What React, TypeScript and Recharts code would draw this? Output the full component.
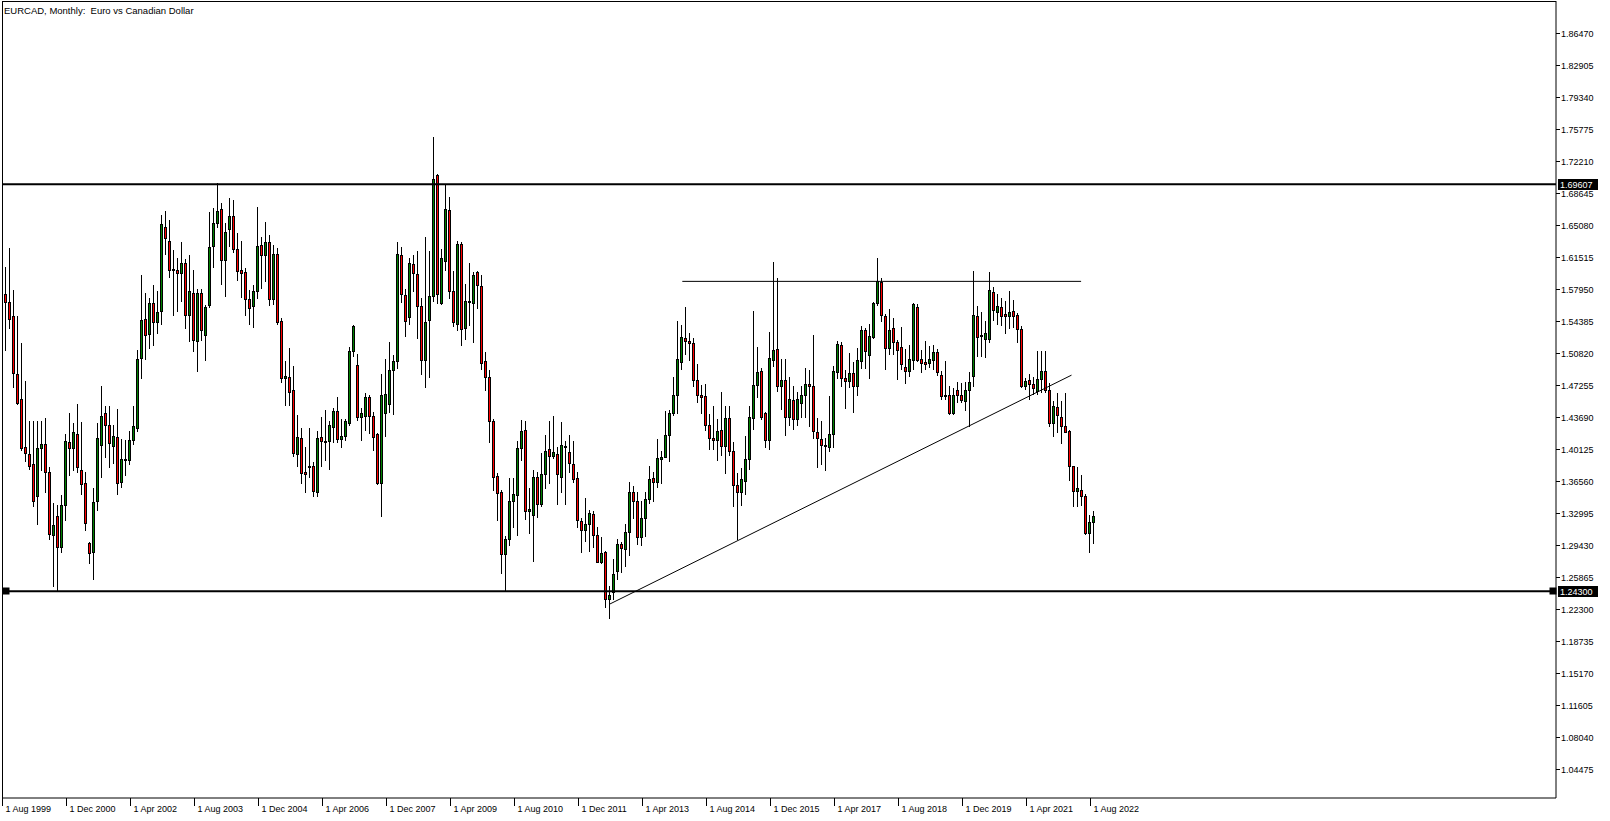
import React from 'react';
import { ComposedChart, Bar, XAxis, YAxis, ReferenceLine, ReferenceDot } from 'recharts';

// EURCAD monthly candles (bar index 0 = Aug 1999)
const opens = [
  1.600, 1.574, 1.565, 1.550, 1.485, 1.457, 1.404, 1.396, 1.385, 1.349,
  1.402, 1.407, 1.376, 1.306, 1.327, 1.292, 1.339, 1.409, 1.402, 1.418,
  1.378, 1.364, 1.297, 1.287, 1.343, 1.406, 1.441, 1.428, 1.405, 1.415,
  1.365, 1.390, 1.389, 1.411, 1.425, 1.503, 1.546, 1.529, 1.564, 1.543,
  1.555, 1.648, 1.633, 1.602, 1.601, 1.597, 1.608, 1.551, 1.575, 1.522,
  1.575, 1.528, 1.562, 1.627, 1.653, 1.669, 1.612, 1.646, 1.661, 1.624,
  1.601, 1.598, 1.568, 1.561, 1.577, 1.629, 1.617, 1.632, 1.568, 1.619,
  1.544, 1.480, 1.482, 1.467, 1.396, 1.414, 1.376, 1.381, 1.382, 1.354,
  1.415, 1.410, 1.410, 1.426, 1.444, 1.413, 1.416, 1.430, 1.510, 1.495,
  1.437, 1.438, 1.459, 1.438, 1.418, 1.364, 1.441, 1.452, 1.489, 1.499,
  1.617, 1.573, 1.548, 1.607, 1.596, 1.561, 1.500, 1.545, 1.572, 1.706,
  1.564, 1.611, 1.667, 1.577, 1.540, 1.630, 1.536, 1.566, 1.564, 1.598,
  1.583, 1.499, 1.481, 1.432, 1.371, 1.354, 1.284, 1.301, 1.343, 1.350,
  1.403, 1.422, 1.332, 1.328, 1.370, 1.340, 1.373, 1.401, 1.394, 1.396,
  1.370, 1.405, 1.398, 1.385, 1.369, 1.321, 1.311, 1.318, 1.329, 1.306,
  1.276, 1.287, 1.234, 1.242, 1.266, 1.296, 1.290, 1.309, 1.353, 1.344,
  1.303, 1.325, 1.346, 1.369, 1.365, 1.390, 1.393, 1.417, 1.442, 1.462,
  1.498, 1.525, 1.522, 1.519, 1.478, 1.462, 1.460, 1.428, 1.414, 1.411,
  1.423, 1.405, 1.436, 1.399, 1.361, 1.354, 1.366, 1.390, 1.436, 1.473,
  1.488, 1.441, 1.411, 1.500, 1.513, 1.471, 1.478, 1.437, 1.456, 1.435,
  1.453, 1.461, 1.474, 1.472, 1.420, 1.413, 1.406, 1.404, 1.418, 1.487,
  1.517, 1.480, 1.477, 1.486, 1.471, 1.499, 1.534, 1.506, 1.526, 1.564,
  1.587, 1.550, 1.514, 1.536, 1.521, 1.515, 1.493, 1.488, 1.501, 1.559,
  1.502, 1.498, 1.497, 1.501, 1.509, 1.484, 1.462, 1.462, 1.442, 1.467,
  1.462, 1.455, 1.467, 1.483, 1.550, 1.528, 1.524, 1.524, 1.576, 1.554,
  1.560, 1.552, 1.550, 1.555, 1.551, 1.535, 1.472, 1.478, 1.474, 1.466,
  1.479, 1.488, 1.467, 1.430, 1.448, 1.437, 1.427, 1.421, 1.382, 1.355,
  1.356, 1.349, 1.308, 1.320,
];

const highs = [
  1.613, 1.604, 1.625, 1.578, 1.549, 1.519, 1.477, 1.433, 1.432, 1.432,
  1.432, 1.436, 1.381, 1.341, 1.339, 1.350, 1.418, 1.441, 1.430, 1.452,
  1.431, 1.376, 1.298, 1.358, 1.430, 1.471, 1.449, 1.449, 1.428, 1.446,
  1.413, 1.411, 1.421, 1.449, 1.512, 1.595, 1.575, 1.569, 1.584, 1.577,
  1.662, 1.666, 1.656, 1.623, 1.614, 1.632, 1.613, 1.617, 1.601, 1.579,
  1.579, 1.562, 1.665, 1.670, 1.698, 1.675, 1.653, 1.681, 1.679, 1.642,
  1.633, 1.603, 1.578, 1.584, 1.671, 1.637, 1.654, 1.640, 1.629, 1.625,
  1.547, 1.499, 1.514, 1.494, 1.439, 1.425, 1.404, 1.425, 1.387, 1.421,
  1.437, 1.445, 1.432, 1.447, 1.459, 1.435, 1.435, 1.515, 1.539, 1.507,
  1.447, 1.464, 1.462, 1.443, 1.419, 1.485, 1.502, 1.520, 1.506, 1.632,
  1.626, 1.580, 1.614, 1.617, 1.622, 1.569, 1.637, 1.622, 1.749, 1.707,
  1.624, 1.695, 1.682, 1.600, 1.633, 1.632, 1.585, 1.609, 1.598, 1.600,
  1.595, 1.509, 1.489, 1.435, 1.375, 1.356, 1.305, 1.369, 1.369, 1.410,
  1.434, 1.432, 1.358, 1.378, 1.376, 1.397, 1.417, 1.433, 1.438, 1.404,
  1.431, 1.410, 1.417, 1.410, 1.376, 1.325, 1.347, 1.333, 1.332, 1.314,
  1.303, 1.288, 1.249, 1.279, 1.301, 1.298, 1.318, 1.365, 1.360, 1.354,
  1.344, 1.353, 1.382, 1.376, 1.412, 1.399, 1.444, 1.445, 1.481, 1.544,
  1.539, 1.559, 1.530, 1.525, 1.496, 1.473, 1.474, 1.440, 1.449, 1.435,
  1.465, 1.449, 1.449, 1.409, 1.375, 1.380, 1.416, 1.449, 1.555, 1.515,
  1.492, 1.443, 1.532, 1.610, 1.592, 1.502, 1.502, 1.482, 1.471, 1.465,
  1.472, 1.492, 1.489, 1.528, 1.436, 1.432, 1.414, 1.460, 1.494, 1.522,
  1.521, 1.489, 1.508, 1.498, 1.514, 1.538, 1.536, 1.541, 1.565, 1.614,
  1.592, 1.552, 1.557, 1.547, 1.523, 1.537, 1.513, 1.517, 1.564, 1.563,
  1.512, 1.522, 1.516, 1.517, 1.513, 1.488, 1.499, 1.471, 1.469, 1.476,
  1.475, 1.476, 1.487, 1.599, 1.561, 1.554, 1.544, 1.598, 1.582, 1.574,
  1.570, 1.566, 1.577, 1.567, 1.553, 1.538, 1.480, 1.485, 1.481, 1.511,
  1.511, 1.510, 1.475, 1.455, 1.464, 1.455, 1.464, 1.422, 1.383, 1.381,
  1.372, 1.351, 1.328, 1.332,
];

const lows = [
  1.571, 1.512, 1.536, 1.470, 1.451, 1.400, 1.388, 1.379, 1.338, 1.318,
  1.378, 1.353, 1.301, 1.249, 1.244, 1.287, 1.322, 1.372, 1.378, 1.376,
  1.351, 1.311, 1.275, 1.257, 1.334, 1.370, 1.393, 1.381, 1.386, 1.351,
  1.359, 1.372, 1.385, 1.407, 1.421, 1.480, 1.502, 1.514, 1.517, 1.531,
  1.540, 1.619, 1.593, 1.551, 1.555, 1.566, 1.536, 1.522, 1.511, 1.488,
  1.523, 1.501, 1.559, 1.604, 1.648, 1.585, 1.572, 1.627, 1.621, 1.589,
  1.571, 1.551, 1.540, 1.537, 1.570, 1.581, 1.588, 1.562, 1.563, 1.541,
  1.476, 1.450, 1.450, 1.394, 1.383, 1.364, 1.353, 1.370, 1.349, 1.349,
  1.382, 1.389, 1.379, 1.409, 1.409, 1.404, 1.411, 1.428, 1.505, 1.434,
  1.411, 1.422, 1.419, 1.400, 1.362, 1.327, 1.416, 1.443, 1.440, 1.492,
  1.565, 1.527, 1.541, 1.577, 1.525, 1.485, 1.470, 1.481, 1.566, 1.564,
  1.563, 1.601, 1.569, 1.538, 1.534, 1.517, 1.524, 1.539, 1.521, 1.558,
  1.491, 1.467, 1.409, 1.356, 1.322, 1.263, 1.243, 1.295, 1.315, 1.306,
  1.389, 1.324, 1.308, 1.277, 1.326, 1.338, 1.358, 1.363, 1.391, 1.340,
  1.354, 1.340, 1.376, 1.365, 1.314, 1.287, 1.299, 1.288, 1.292, 1.276,
  1.274, 1.226, 1.213, 1.234, 1.257, 1.265, 1.271, 1.283, 1.325, 1.296,
  1.295, 1.305, 1.341, 1.343, 1.359, 1.363, 1.393, 1.388, 1.439, 1.441,
  1.490, 1.507, 1.500, 1.472, 1.454, 1.442, 1.423, 1.401, 1.401, 1.389,
  1.395, 1.375, 1.395, 1.338, 1.301, 1.339, 1.351, 1.379, 1.424, 1.459,
  1.435, 1.404, 1.401, 1.494, 1.466, 1.446, 1.417, 1.428, 1.424, 1.428,
  1.437, 1.437, 1.427, 1.414, 1.381, 1.385, 1.378, 1.399, 1.404, 1.480,
  1.471, 1.447, 1.470, 1.443, 1.462, 1.492, 1.492, 1.480, 1.525, 1.562,
  1.544, 1.490, 1.507, 1.507, 1.479, 1.490, 1.475, 1.483, 1.491, 1.499,
  1.487, 1.490, 1.493, 1.490, 1.484, 1.457, 1.457, 1.440, 1.440, 1.454,
  1.454, 1.445, 1.427, 1.471, 1.505, 1.505, 1.504, 1.521, 1.545, 1.540,
  1.539, 1.531, 1.536, 1.537, 1.520, 1.470, 1.468, 1.457, 1.463, 1.463,
  1.465, 1.465, 1.427, 1.416, 1.420, 1.408, 1.420, 1.367, 1.338, 1.338,
  1.339, 1.307, 1.287, 1.297,
];

const closes = [
  1.574, 1.565, 1.546, 1.486, 1.453, 1.403, 1.397, 1.383, 1.343, 1.402,
  1.407, 1.376, 1.307, 1.317, 1.292, 1.339, 1.410, 1.402, 1.420, 1.381,
  1.362, 1.319, 1.286, 1.342, 1.414, 1.438, 1.428, 1.408, 1.416, 1.363,
  1.390, 1.389, 1.411, 1.427, 1.502, 1.545, 1.528, 1.564, 1.543, 1.554,
  1.652, 1.636, 1.601, 1.601, 1.597, 1.608, 1.551, 1.577, 1.523, 1.575,
  1.534, 1.559, 1.626, 1.653, 1.666, 1.612, 1.643, 1.661, 1.624, 1.599,
  1.597, 1.568, 1.558, 1.577, 1.627, 1.617, 1.632, 1.568, 1.619, 1.543,
  1.480, 1.483, 1.465, 1.397, 1.415, 1.375, 1.374, 1.383, 1.355, 1.414,
  1.410, 1.409, 1.428, 1.444, 1.413, 1.416, 1.432, 1.510, 1.538, 1.437,
  1.442, 1.459, 1.438, 1.415, 1.364, 1.462, 1.463, 1.489, 1.499, 1.619,
  1.574, 1.544, 1.608, 1.597, 1.561, 1.500, 1.543, 1.572, 1.702, 1.574,
  1.614, 1.669, 1.577, 1.543, 1.630, 1.535, 1.566, 1.565, 1.595, 1.584,
  1.497, 1.482, 1.432, 1.370, 1.352, 1.284, 1.301, 1.343, 1.351, 1.403,
  1.421, 1.332, 1.335, 1.370, 1.340, 1.374, 1.399, 1.394, 1.398, 1.374,
  1.406, 1.405, 1.386, 1.368, 1.322, 1.311, 1.318, 1.330, 1.306, 1.276,
  1.286, 1.234, 1.239, 1.262, 1.296, 1.291, 1.309, 1.353, 1.344, 1.303,
  1.325, 1.346, 1.368, 1.365, 1.391, 1.393, 1.417, 1.442, 1.461, 1.502,
  1.526, 1.522, 1.519, 1.478, 1.461, 1.459, 1.428, 1.414, 1.411, 1.421,
  1.405, 1.436, 1.399, 1.361, 1.354, 1.368, 1.390, 1.437, 1.473, 1.487,
  1.437, 1.411, 1.503, 1.512, 1.471, 1.478, 1.437, 1.457, 1.435, 1.457,
  1.462, 1.474, 1.471, 1.421, 1.414, 1.406, 1.405, 1.418, 1.488, 1.518,
  1.480, 1.477, 1.486, 1.471, 1.501, 1.534, 1.510, 1.527, 1.564, 1.588,
  1.551, 1.514, 1.534, 1.520, 1.512, 1.496, 1.488, 1.502, 1.563, 1.501,
  1.497, 1.496, 1.502, 1.509, 1.487, 1.460, 1.460, 1.442, 1.462, 1.461,
  1.456, 1.467, 1.476, 1.551, 1.526, 1.527, 1.531, 1.578, 1.556, 1.561,
  1.550, 1.550, 1.554, 1.549, 1.535, 1.472, 1.477, 1.474, 1.469, 1.479,
  1.488, 1.467, 1.430, 1.449, 1.439, 1.427, 1.420, 1.383, 1.355, 1.358,
  1.349, 1.308, 1.320, 1.327,
];

// time labels, one every 16 bars
const tickLabels = [
  '1 Aug 1999', '1 Dec 2000', '1 Apr 2002', '1 Aug 2003', '1 Dec 2004', '1 Apr 2006',
  '1 Dec 2007', '1 Apr 2009', '1 Aug 2010', '1 Dec 2011', '1 Apr 2013', '1 Aug 2014',
  '1 Dec 2015', '1 Apr 2017', '1 Aug 2018', '1 Dec 2019', '1 Apr 2021', '1 Aug 2022',
];
const barsPerLabel = 16;

const priceTicks = [
  1.04475, 1.0804, 1.11605, 1.1517, 1.18735, 1.223, 1.25865, 1.2943, 1.32995, 1.3656,
  1.40125, 1.4369, 1.47255, 1.5082, 1.54385, 1.5795, 1.61515, 1.6508, 1.68645, 1.7221,
  1.75775, 1.7934, 1.82905, 1.8647,
];

// drawn objects
const levels = [1.69607, 1.243];
const topLine = { from: 170, to: 269.7, price: 1.588 };
const trendLine = { from: 151.8, fromPrice: 1.2286, to: 267.3, toPrice: 1.4836 };

const FONT = '"Liberation Sans", Arial, sans-serif';
const BULL = '#008000';
const BEAR = '#ff0000';

const data = opens.map((o, i) => ({
  i,
  o,
  h: highs[i],
  l: lows[i],
  c: closes[i],
  range: [lows[i], highs[i]],
}));

const Candle = (props: any) => {
  const { x, y, width, height, payload } = props;
  if (!payload) return null;
  const { o, h, l, c } = payload;
  const top = Math.min(y, y + height);
  const bottom = Math.max(y, y + height);
  const span = h - l || 1;
  const py = (v: number) => top + ((h - v) / span) * (bottom - top);
  const fx = Math.floor(x + width / 2);
  const bTop = Math.round(py(Math.max(o, c))) + 0.5;
  const bBot = Math.round(py(Math.min(o, c))) + 0.5;
  return (
    <g>
      <line x1={fx + 0.5} x2={fx + 0.5} y1={Math.round(top)} y2={Math.round(bottom) + 1} stroke="#000" strokeWidth={1} />
      <rect
        x={fx - 0.5}
        y={bTop}
        width={2}
        height={Math.max(bBot - bTop, 1)}
        fill={c >= o ? BULL : BEAR}
        stroke="#000"
        strokeWidth={1}
      />
    </g>
  );
};

const PriceTick = (props: any) => {
  const { x, y, payload } = props;
  const v = payload.value;
  const yy = Math.round(y);
  const label = Number(v).toFixed(5);
  if (levels.includes(v)) {
    return (
      <g>
        <rect x={x + 2} y={yy - 5} width={40} height={11} fill="#000" />
        <text x={x + 4} y={yy + 4} fill="#fff" fontSize={9} fontFamily={FONT}>{label}</text>
      </g>
    );
  }
  return (
    <g>
      <line x1={x} x2={x + 4} y1={yy + 0.5} y2={yy + 0.5} stroke="#000" />
      <text x={x + 5} y={yy + 4} fill="#000" fontSize={9} fontFamily={FONT}>{label}</text>
    </g>
  );
};

const DateTick = (props: any) => {
  const { x, y, payload } = props;
  const k = Math.round(payload.value / barsPerLabel);
  const xx = Math.floor(x) + 0.5;
  return (
    <g>
      <line x1={xx} x2={xx} y1={y} y2={y + 8} stroke="#000" />
      <text x={xx + 3} y={y + 14} fill="#000" fontSize={9} fontFamily={FONT}>{tickLabels[k]}</text>
    </g>
  );
};

const Handle = (props: any) => (
  <rect x={Math.round(props.cx) - 3.5} y={Math.round(props.cy) - 3.5} width={7} height={7} fill="#000" />
);

export default function App() {
  const dateTicks = tickLabels.map((_, k) => k * barsPerLabel);
  return (
    <div style={{ position: 'absolute', left: 0, top: 0, width: 1610, height: 821, background: '#fff' }}>
      <ComposedChart width={1610} height={821} data={data} margin={{ top: 1, right: 0, left: 2, bottom: 0 }}>
        <XAxis
          dataKey="i"
          type="number"
          domain={[-0.075, 388.425]}
          allowDataOverflow
          ticks={dateTicks}
          interval={0}
          height={23}
          tickSize={0}
          tickMargin={0}
          tickLine={false}
          axisLine={{ stroke: '#000' }}
          tick={<DateTick />}
        />
        <YAxis
          orientation="right"
          type="number"
          domain={[1.01285, 1.90013]}
          allowDataOverflow
          ticks={[...priceTicks, ...levels]}
          interval={0}
          width={54}
          tickSize={0}
          tickMargin={0}
          tickLine={false}
          axisLine={{ stroke: '#000' }}
          tick={<PriceTick />}
        />
        <Bar dataKey="range" barSize={3} shape={<Candle />} isAnimationActive={false} />
        {levels.map((lv) => (
          <ReferenceLine key={lv} y={lv} stroke="#000" strokeWidth={2} />
        ))}
        <ReferenceLine
          segment={[{ x: topLine.from, y: topLine.price }, { x: topLine.to, y: topLine.price }]}
          stroke="#000"
          strokeWidth={1}
        />
        <ReferenceLine
          segment={[{ x: trendLine.from, y: trendLine.fromPrice }, { x: trendLine.to, y: trendLine.toPrice }]}
          stroke="#000"
          strokeWidth={1}
        />
        <ReferenceDot x={1} y={1.243} r={3} shape={<Handle />} />
        <ReferenceDot x={387.6} y={1.243} r={3} shape={<Handle />} />
      </ComposedChart>
      <div
        style={{
          position: 'absolute',
          left: 2,
          top: 1,
          width: 1554,
          height: 797,
          borderLeft: '1px solid #000',
          borderTop: '1px solid #000',
          boxSizing: 'border-box',
          pointerEvents: 'none',
        }}
      />
      <div
        style={{
          position: 'absolute',
          left: 4,
          top: 5,
          fontFamily: FONT,
          fontSize: 9.5,
          lineHeight: '12px',
          whiteSpace: 'pre',
          color: '#000',
        }}
      >
        {'EURCAD, Monthly:  Euro vs Canadian Dollar'}
      </div>
    </div>
  );
}
